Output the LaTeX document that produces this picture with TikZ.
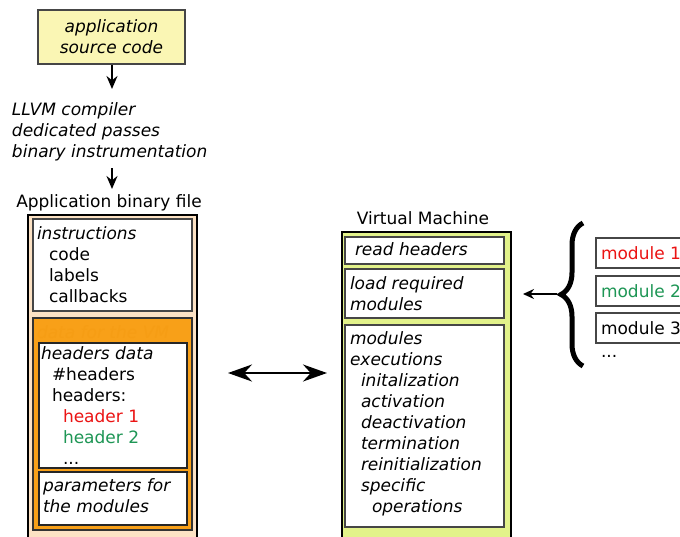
\documentclass[tikz,border=0pt]{standalone}
\usepackage{fontspec}
\setmainfont{DejaVu Sans}
\usetikzlibrary{arrows.meta,decorations.pathreplacing}
\definecolor{srcfill}{RGB}{250,246,180}
\definecolor{peach}{RGB}{252,226,196}
\definecolor{vmorange}{RGB}{248,160,24}
\definecolor{vmghost}{RGB}{246,157,20}
\definecolor{vmgreen}{RGB}{226,242,138}
\definecolor{hred}{RGB}{235,20,20}
\definecolor{hgreen}{RGB}{30,150,85}
\definecolor{edge}{RGB}{70,70,70}
\begin{document}
\begin{tikzpicture}[x=1pt,y=-1pt,
  rect/.style={anchor=north west, inner sep=0pt, outer sep=0pt, draw=edge, line width=1.2pt, fill=white},
  outerbox/.style={rect, draw=black, line width=1.6pt},
  txt/.style={font=\fontsize{17}{21}\selectfont, inner sep=0pt, outer sep=0pt, anchor=base west, align=left},
  arr/.style={-{Stealth[length=13pt,width=11pt]}, line width=1.6pt},
  dblarr/.style={{Stealth[length=24pt,width=17pt]}-{Stealth[length=24pt,width=17pt]}, line width=2.2pt}]
\useasboundingbox (0,0) rectangle (680,536);
\clip (0,0) rectangle (680,536);

% source box
\node[rect, fill=srcfill, minimum width=147pt, minimum height=54pt, font=\fontsize{17}{21}\selectfont\itshape, align=center] (src) at (38,10) {application\\source code};
\node[txt, font=\fontsize{17}{21}\selectfont\itshape] (llvm) at (12,157) {LLVM compiler\\dedicated passes\\binary instrumentation};
\coordinate (a1s) at (112,65);
\coordinate (a1e) at (112,89);
\coordinate (a2s) at (112,168);
\coordinate (a2e) at (112,189);
\draw[arr] (a1s) -- (a1e);
\draw[arr] (a2s) -- (a2e);
\node[txt, anchor=base] (bintitle) at (109,207) {Application binary file};

% application binary file
\node[outerbox, fill=peach, minimum width=169pt, minimum height=345pt] (binL) at (28,215) {};
\node[rect, minimum width=159pt, minimum height=92pt] (instr) at (33,219) {};
\node[txt] (instrtxt) at (37,302) {\itshape instructions\\\hspace*{12pt}code\\\hspace*{12pt}labels\\\hspace*{12pt}callbacks};
\node[rect, draw=black!80, line width=1.4pt, fill=vmorange, minimum width=159pt, minimum height=212pt] (vmdata) at (33,318) {};
\node[txt, text=vmghost, font=\fontsize{17}{21}\selectfont\itshape] (ghost) at (37,338) {data for the VM};
\node[rect, draw=black!85, minimum width=148pt, minimum height=125pt] (hdr) at (39,343) {};
\node[txt] (hdrtxt) at (41,464) {\itshape headers data\\\hspace*{11pt}\#headers\\\hspace*{11pt}headers:\\\hspace*{22pt}\textcolor{hred}{header 1}\\\hspace*{22pt}\textcolor{hgreen}{header 2}\\\hspace*{22pt}...};
\node[rect, draw=black!85, minimum width=148pt, minimum height=53pt] (par) at (39,472) {};
\node[txt, font=\fontsize{17}{21}\selectfont\itshape] (partxt) at (43,512) {parameters for\\the modules};

% virtual machine
\node[txt, anchor=base] (vmtitle) at (423,224) {Virtual Machine};
\node[outerbox, fill=vmgreen, minimum width=169pt, minimum height=328pt] (vm) at (342,232) {};
\node[rect, minimum width=159pt, minimum height=27pt] (rd) at (345,237) {};
\node[txt, font=\fontsize{17}{21}\selectfont\itshape] (rdtxt) at (355,255) {read headers};
\node[rect, minimum width=159pt, minimum height=49pt] (ld) at (345,269) {};
\node[txt, font=\fontsize{17}{21}\selectfont\itshape] (ldtxt) at (350,310) {load required\\modules};
\node[rect, minimum width=159pt, minimum height=202pt] (ex) at (345,325) {};
\node[txt, font=\fontsize{17}{21}\selectfont\itshape] (extxt) at (350,512) {modules\\executions\\\hspace*{11pt}initalization\\\hspace*{11pt}activation\\\hspace*{11pt}deactivation\\\hspace*{11pt}termination\\\hspace*{11pt}reinitialization\\\hspace*{11pt}specific\\\hspace*{22pt}operations};

% modules
\node[rect, minimum width=104pt, minimum height=30pt] (m1) at (596,238) {};
\node[txt, text=hred] (m1t) at (601,259) {module 1};
\node[rect, minimum width=104pt, minimum height=30pt] (m2) at (596,276) {};
\node[txt, text=hgreen] (m2t) at (601,297) {module 2};
\node[rect, minimum width=104pt, minimum height=30pt] (m3) at (596,313) {};
\node[txt] (m3t) at (601,334) {module 3};
\node[txt] (mdots) at (601,357) {...};

% brace and arrows
\coordinate (brB) at (583,366);
\coordinate (brT) at (583,223);
\draw[line width=5pt, decorate, decoration={brace, amplitude=22pt}] (brB) -- (brT);
\coordinate (b1) at (557,294);
\coordinate (b2) at (523,294);
\draw[-{Stealth[length=11pt,width=10pt]}, line width=1.6pt] (b1) -- (b2);
\coordinate (d1) at (228,373);
\coordinate (d2) at (327,373);
\draw[dblarr] (d1) -- (d2);
\end{tikzpicture}
\end{document}
